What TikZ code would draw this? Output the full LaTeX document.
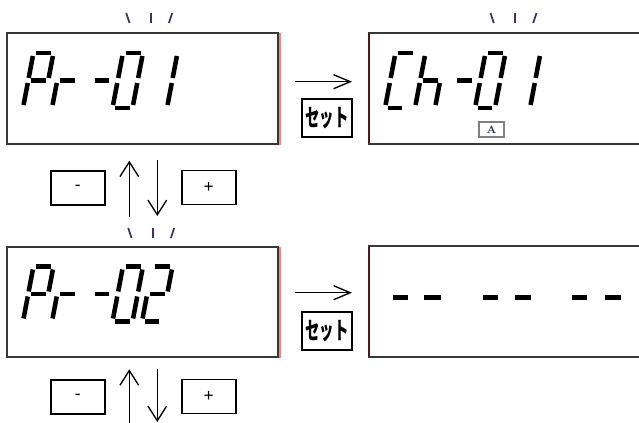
\documentclass[tikz,border=0pt]{standalone}
\usepackage{fontspec}
\usepackage{graphicx}
\newfontfamily\jpfont{Noto Sans CJK JP}
\newfontfamily\keyfont{Liberation Sans}
\usetikzlibrary{arrows.meta}

\definecolor{framegray}{RGB}{55,55,55}
\definecolor{edgered}{RGB}{245,130,135}
\definecolor{edgedark}{RGB}{70,25,35}
\definecolor{tickpurple}{RGB}{70,50,85}
\definecolor{tagblue}{RGB}{50,55,90}

\tikzset{every picture/.style={line width=0.75pt}}
\tikzset{
  lcd/.style={line width=3.4pt},
  lcdframe/.style={draw=framegray, line width=1.5pt},
  tickline/.style={draw=tickpurple, line width=1.3pt},
  keybox/.style={draw, line width=1.1pt, minimum width=40.5pt, minimum height=25.5pt, inner sep=0pt, font=\keyfont\fontsize{13pt}{13pt}\selectfont},
  setkey/.style={draw, line width=1.5pt, minimum width=37.5pt, minimum height=28.5pt, inner sep=0pt},
  tagbox/.style={draw=gray, line width=1pt, minimum width=18.75pt, minimum height=11.25pt, inner sep=0pt, text=tagblue, font=\fontsize{8pt}{8pt}\selectfont\bfseries},
  goright/.style={-{Straight Barb[length=12.5pt,width=10.5pt]}, line width=1pt},
  updown/.style={-{Straight Barb[length=11pt,width=14pt]}, line width=1pt},
}

% one segment of the display, in the cell frame
\newcommand{\lcdseg}[1]{%
  \if a#1\draw[lcd] (3,-55) -- (18,-55);\fi
  \if b#1\draw[lcd] (20,-52) -- (20,-30);\fi
  \if c#1\draw[lcd] (20,-25) -- (20,-3);\fi
  \if d#1\draw[lcd] (2.5,0) -- (17,0);\fi
  \if e#1\draw[lcd] (0,-25) -- (0,-3);\fi
  \if f#1\draw[lcd] (0,-52) -- (0,-30);\fi
  \if g#1\draw[lcd] (3,-27.5) -- (17.5,-27.5);\fi}
% one character: x, baseline, list of segments
\newcommand{\lcdchar}[3]{%
  \begin{scope}[shift={(#1,#2)},xslant=-0.19]
    \foreach \s in {#3} {\lcdseg{\s}}
  \end{scope}}
% blink marks above a display
\newcommand{\blink}[2]{%
  \draw[tickline] (#1-24.5,#2) -- ++(3.3,10);
  \draw[tickline] (#1,#2) -- ++(0,10);
  \draw[tickline] (#1+21.5,#2) -- ++(-3.3,10);}

\begin{document}
\begin{tikzpicture}[x=0.75pt,y=0.75pt,yscale=-1,xscale=1]
	\path[use as bounding box] (0,0) rectangle (639,423);
	\clip (0,0) rectangle (639,423);

	%Displays
	\draw[lcdframe] (7,33) rectangle (278,144);
	\draw[lcdframe] (369,33) rectangle (660,144);
	\draw[lcdframe] (7,247) rectangle (278,357);
	\draw[lcdframe] (369,246) rectangle (660,357);
	\draw[edgered, line width=1.2pt] (280,33) -- (280,145);
	\draw[edgered, line width=1.2pt] (280,247) -- (280,358);
	\draw[edgedark, line width=1pt] (369,34) -- (369,143);
	\draw[edgedark, line width=1pt] (369,247) -- (369,356);

	%Blink marks
	\blink{150.7}{13}
	\blink{515}{13}
	\blink{152.7}{228}

	%Pr-01
	\lcdchar{23}{108}{a,b,f,g,e}
	\lcdchar{52}{108}{e,g}
	\lcdchar{86.5}{108}{g}
	\lcdchar{112.5}{108}{a,b,c,d,e,f}
	\lcdchar{147}{108}{b,c}
	%Ch-01
	\lcdchar{385}{108}{a,f,e,d}
	\lcdchar{415}{108}{f,e,g,c}
	\lcdchar{449}{108}{g}
	\lcdchar{475}{108}{a,b,c,d,e,f}
	\lcdchar{510}{108}{b,c}
	%Pr-02
	\lcdchar{23}{321.5}{a,b,f,g,e}
	\lcdchar{52}{321.5}{e,g}
	\lcdchar{86.5}{321.5}{g}
	\lcdchar{112.5}{321.5}{a,b,c,d,e,f}
	\lcdchar{142}{321.5}{a,b,g,e,d}
	%-- -- --
	\foreach \xa/\xb in {392.7/408.3, 424.3/441, 483.3/498.3, 515/530.7, 572.3/587.3, 605/620.7}
	  \draw[lcd] (\xa,297.7) -- (\xb,297.7);

	% Text Node
	\node[tagbox] (tagA) at (491.5,129.5) {A};

	%Set keys and arrows
	\node[setkey] (set1) at (327,118) {\scalebox{0.6}[1]{\jpfont\bfseries\fontsize{18pt}{18pt}\selectfont セット}};
	\node[setkey] (set2) at (327,331) {\scalebox{0.6}[1]{\jpfont\bfseries\fontsize{18pt}{18pt}\selectfont セット}};
	\coordinate (go1a) at (295,81.7);
	\coordinate (go1b) at (352,81.7);
	\coordinate (go2a) at (295,292.7);
	\coordinate (go2b) at (352,292.7);
	\draw[goright] (go1a) -- (go1b);
	\draw[goright] (go2a) -- (go2b);

	%Minus / plus keys
	\node[keybox] (minus1) at (77.8,187.8) {-};
	\node[keybox] (plus1) at (208.8,187.5) {+};
	\node[keybox] (minus2) at (77.8,397) {-};
	\node[keybox] (plus2) at (208.8,396.3) {+};
	\coordinate (up1a) at (129.3,216.7);
	\coordinate (up1b) at (129.3,160.7);
	\coordinate (dn1a) at (157.3,160);
	\coordinate (dn1b) at (157.3,216);
	\coordinate (up2a) at (129.3,430);
	\coordinate (up2b) at (129.3,369.3);
	\coordinate (dn2a) at (157.3,369);
	\coordinate (dn2b) at (157.3,422);
	\draw[updown] (up1a) -- (up1b);
	\draw[updown] (dn1a) -- (dn1b);
	\draw[updown] (up2a) -- (up2b);
	\draw[updown] (dn2a) -- (dn2b);

\end{tikzpicture}
\end{document}
